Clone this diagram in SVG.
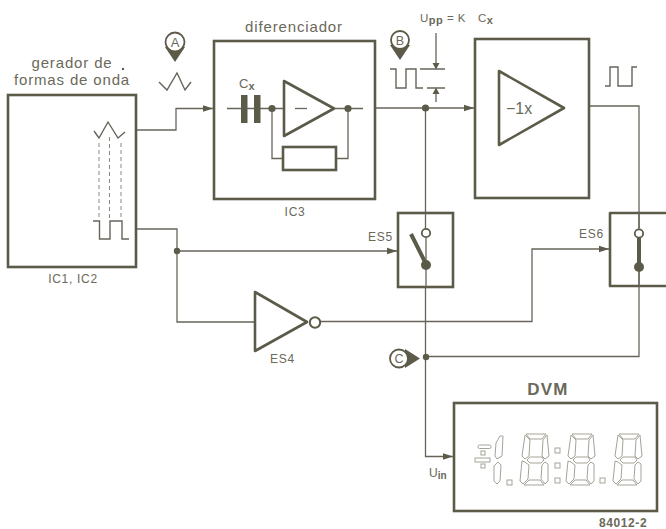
<svg xmlns="http://www.w3.org/2000/svg" xmlns:xlink="http://www.w3.org/1999/xlink" width="666" height="529" viewBox="0 0 666 529">
<style>
text{font-family:"Liberation Sans",Arial,sans-serif;fill:#6a695a}
.box{fill:#fff;stroke:#5c5a48;stroke-width:2.6}
.thick{fill:none;stroke:#5c5a48;stroke-width:2.6;stroke-linejoin:round}
.w{fill:none;stroke:#67655a;stroke-width:1.3}
.sig{fill:none;stroke:#67655a;stroke-width:1.4}
.dash{fill:none;stroke:#8a887c;stroke-width:1;stroke-dasharray:4 3}
.dot{fill:#5c5a48}
.seg{fill:none;stroke:#a5a398;stroke-width:1}
.lbl{font-size:12px;letter-spacing:.7px}
.big{font-size:15px;letter-spacing:.85px}
</style>
<defs>
<marker id="arr" markerWidth="11" markerHeight="8" refX="10.500" refY="4" orient="auto" markerUnits="userSpaceOnUse"><path d="M0 .5L10.500 4L0 7.500z" fill="#5c5a48"/></marker>
<g id="digit">
<path class="seg" d="M4 0L24 0L20 5L8 5z"/>
<path class="seg" d="M3 1L8 6L7 22L3 25L0 22z"/>
<path class="seg" d="M25 1L27 22L23 25L20 22L21 6z"/>
<path class="seg" d="M5 26L8 23L20 23L22 26L19 29L8 29z"/>
<path class="seg" d="M0 27L3 28L7 31L6 45L1 50L-2 47z"/>
<path class="seg" d="M23 28L26 30L26 47L23 50L19 45L20 31z"/>
<path class="seg" d="M2 51L7 46L18 46L22 51z"/>
</g>
</defs>
<rect width="666" height="529" fill="#fff"/>

<g id="connectors">
<path class="w" d="M136 130H176V108.500H213" marker-end="url(#arr)"/>
<path class="w" d="M137 229H177V322H255"/>
<path class="w" d="M177 251H397" marker-end="url(#arr)"/>
<path class="w" d="M376 108H474" marker-end="url(#arr)"/>
<path class="w" d="M425.500 108V456.500H453" marker-end="url(#arr)"/>
<path class="w" d="M320 321.500H532V249H609" marker-end="url(#arr)"/>
<path class="w" d="M590 106H639V356.500H426"/>
<circle class="dot" cx="177" cy="251" r="3.200"/>
<circle class="dot" cx="425.500" cy="108" r="3.600"/>
<circle class="dot" cx="426" cy="357" r="3.200"/>
</g>

<g id="generator">
<rect class="box" x="8" y="95" width="128" height="172"/>
<path class="sig" d="M94 131L99 138L108 122L118 138L125 132"/>
<path class="dash" d="M99 143V218M109.500 137V218M121 143V218"/>
<path class="sig" d="M93 221H99.500V239H110V221H122V239H129"/>
<text class="big" x="72" y="68" text-anchor="middle">gerador de</text>
<text class="big" x="72" y="85" text-anchor="middle">formas de onda</text>
<circle cx="123" cy="69" r="1.200" fill="#5c5a48"/>
<text class="lbl" x="73" y="283" text-anchor="middle">IC1, IC2</text>
</g>

<g id="marker-a">
<path d="M175 62L165 47H185z" fill="#5c5a48"/>
<circle cx="175" cy="42" r="9.500" fill="#fff" stroke="#5c5a48" stroke-width="1.800"/>
<text x="175" y="47" font-size="13" text-anchor="middle">A</text>
<path class="sig" d="M159 82L167 90L177 73L185 90L191 82"/>
</g>

<g id="differentiator">
<rect class="box" x="214" y="41" width="161" height="158"/>
<path class="w" d="M227 108.500H284M334 108.500H363M272 108.500V158.500H283M348 108.500V158.500H336"/>
<rect x="241" y="95" width="6.500" height="28" fill="#5c5a48"/>
<rect x="254" y="95" width="6.500" height="28" fill="#5c5a48"/>
<path class="thick" d="M284 81V136L334 108.500z"/>
<path class="w" d="M295 108.500H307"/>
<rect class="box" x="283" y="147" width="53" height="23"/>
<circle class="dot" cx="272" cy="108.500" r="3.600"/>
<circle class="dot" cx="348" cy="108.500" r="3.600"/>
<text x="239" y="88" font-size="13">C<tspan font-size="11" font-weight="bold" dy="2">x</tspan></text>
<text class="big" x="294" y="32" text-anchor="middle">diferenciador</text>
<text class="lbl" x="295" y="216" text-anchor="middle">IC3</text>
</g>

<g id="marker-b">
<path d="M400 60L390 45H410z" fill="#5c5a48"/>
<circle cx="400" cy="40" r="9" fill="#fff" stroke="#5c5a48" stroke-width="1.800"/>
<text x="400" y="45" font-size="12.500" text-anchor="middle">B</text>
<path class="sig" d="M390 69H396V88H406V69H416V88H423"/>
<path class="w" d="M420 69H445M427 88H445M436 33V64M436 93V102"/>
<path d="M436 69.500L432.500 63H439.500zM436 87.500L432.500 94H439.500z" fill="#5c5a48"/>
<text x="420" y="22" font-size="11.500" letter-spacing=".5">U<tspan font-size="11" font-weight="bold" dy="2">pp</tspan><tspan dy="-2"> = K</tspan><tspan x="478">C</tspan><tspan font-size="11" font-weight="bold" dy="2">x</tspan></text>
</g>

<g id="inverter-amp">
<rect class="box" x="475" y="39" width="114" height="159"/>
<path class="thick" d="M499 71V145L564 108z"/>
<text x="506" y="114" font-size="16">−1x</text>
<path class="sig" d="M605 86H610V67H618V86H632V67H637"/>
</g>

<g id="es5">
<rect class="box" x="398" y="213" width="55" height="74"/>
<path class="w" d="M425.500 213V228M426 238V287"/>
<circle cx="426" cy="233" r="4.200" fill="#fff" stroke="#5c5a48" stroke-width="1.800"/>
<path d="M411 234L426 264" stroke="#5c5a48" stroke-width="4" fill="none"/>
<circle class="dot" cx="426" cy="265" r="5"/>
<text class="lbl" x="368" y="241">ES5</text>
</g>

<g id="es6">
<path class="thick" d="M667 213H610V286H667"/>
<path class="w" d="M639 213V228M639 238V286"/>
<circle cx="639" cy="233.500" r="4.200" fill="#fff" stroke="#5c5a48" stroke-width="1.800"/>
<path d="M639 238V266" stroke="#5c5a48" stroke-width="4" fill="none"/>
<circle class="dot" cx="639" cy="267" r="5"/>
<text class="lbl" x="579" y="238">ES6</text>
</g>

<g id="es4">
<path class="thick" d="M255 292V351L307 322z" fill="#fff"/>
<circle cx="315" cy="322.500" r="5.200" fill="#fff" stroke="#5c5a48" stroke-width="2"/>
<text class="lbl" x="270" y="363">ES4</text>
</g>

<g id="marker-c">
<path d="M420 358.500L405 349V368z" fill="#5c5a48"/>
<circle cx="399" cy="358.500" r="9" fill="#fff" stroke="#5c5a48" stroke-width="1.800"/>
<text x="399" y="363" font-size="12.500" text-anchor="middle">C</text>
</g>

<g id="dvm">
<rect class="box" x="454" y="403" width="203" height="108"/>
<use href="#digit" x="522" y="434"/>
<use href="#digit" x="568" y="434"/>
<use href="#digit" x="615" y="434"/>
<path class="seg" d="M500 436L503 436L502 456L497 459L495 456L496 443zM498 462L501 465L500 481L497 484L494 481L494 466z"/>
<rect class="seg" x="478" y="445" width="13" height="3.500" rx="1.500"/>
<rect class="seg" x="475" y="458" width="15" height="4"/>
<rect class="seg" x="481" y="451" width="4" height="4"/>
<rect class="seg" x="481" y="464" width="4" height="4"/>
<rect class="seg" x="507" y="480" width="5" height="5"/>
<rect class="seg" x="555" y="448" width="5" height="5"/>
<rect class="seg" x="555" y="463" width="5" height="5"/>
<rect class="seg" x="555" y="478" width="5" height="5"/>
<rect class="seg" x="600" y="478" width="5" height="5"/>
<text x="548" y="395" font-size="17" letter-spacing="1.200" style="font-weight:600" text-anchor="middle">DVM</text>
<text x="429" y="477" font-size="12">U<tspan font-size="10" font-weight="bold" dy="2">in</tspan></text>
</g>
<text x="599" y="527" font-size="12" font-weight="bold" letter-spacing=".6">84012-2</text>
</svg>
